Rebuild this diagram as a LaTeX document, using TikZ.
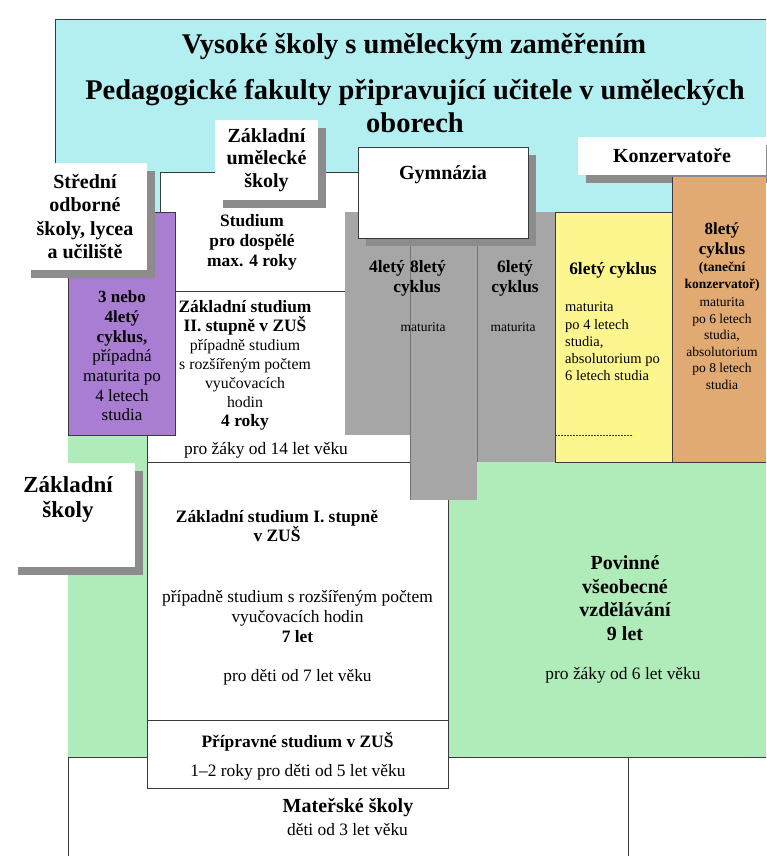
\documentclass[tikz,border=0pt]{standalone}
\usepackage{fontspec}
\setmainfont{Liberation Serif}
\usetikzlibrary{positioning, shadows}
\definecolor{sky}{HTML}{B3EEF1}
\definecolor{lawn}{HTML}{B0ECBA}
\definecolor{lilac}{HTML}{A97DD2}
\definecolor{lemon}{HTML}{FDF68E}
\definecolor{apricot}{HTML}{E0AA72}
\definecolor{stone}{HTML}{A6A6A6}
\definecolor{shade}{HTML}{8C8C8C}
\definecolor{edge}{HTML}{3A3A3A}
\tikzset{T/.style={font=\fontsize{28.5}{33}\selectfont\bfseries, align=center, inner sep=0pt}}
\tikzset{L/.style={fill=white, font=\fontsize{20}{22.5}\selectfont\bfseries, align=center, inner sep=0pt, drop shadow={shadow xshift=8pt, shadow yshift=-8pt, fill=shade, opacity=1}}}
\tikzset{LT/.style={font=\fontsize{20}{23.5}\selectfont\bfseries, align=center, inner sep=0pt}}
\tikzset{M/.style={font=\fontsize{17.4}{19.5}\selectfont, align=center, inner sep=0pt}}
\tikzset{MB/.style={font=\fontsize{17.4}{19.5}\selectfont\bfseries, align=center, inner sep=0pt}}
\tikzset{S/.style={font=\fontsize{14.5}{17.2}\selectfont, align=center, inner sep=0pt}}
\tikzset{E/.style={draw=edge, line width=1pt}}

\begin{document}
\begin{tikzpicture}[x=1pt, y=-1pt]
        \useasboundingbox (0,0) rectangle (766,856);
        %% Background areas
        \fill[sky] (55,20) rectangle (766,214);
        \draw[E] (55,163) -- (55,20) -- (766,20);
        \fill[lawn] (68,435) rectangle (766,757);
        \draw[E] (68,856) -- (68,757) -- (766,757);
        \draw[E] (628,757) -- (628,856);
        %% Title
        \node[T] (title) at (414,47) {Vysoké školy s uměleckým zaměřením};
        \node[T] (ped) at (415,106) {Pedagogické fakulty připravující učitele v uměleckých\\oborech};
        %% ZUS area
        \fill[white] (160,172) rectangle (358,435);
        \fill[white] (147,435) rectangle (410,462);
        \draw[E] (160,214) -- (160,172) -- (358,172);
        \draw[E] (175,291) -- (345,291);
        \draw[E] (147,435) -- (147,462) -- (410,462);
        \node[MB, font=\fontsize{17.4}{20}\selectfont\bfseries] (dosp) at (252,242) {Studium\\pro dospělé\\max. 4 roky};
        \node[M, font=\fontsize{15.8}{19}\selectfont] (zus2) at (245,365) {{\fontsize{17.4}{19}\selectfont\bfseries Základní studium}\\{\fontsize{17.4}{19}\selectfont\bfseries II. stupně v ZUŠ}\\případně studium\\s rozšířeným počtem\\vyučovacích\\hodin\\{\fontsize{17.4}{19}\selectfont\bfseries 4 roky}};
        \node[M] (zus14) at (266,450) {pro žáky od 14 let věku};
        %% ZUS I and preparatory
        \filldraw[fill=white, E] (147,462) rectangle (448,720);
        \filldraw[fill=white, E] (147,720) rectangle (448,788);
        \node[MB, font=\fontsize{17.4}{18.5}\selectfont\bfseries] (zus1) at (277,526) {Základní studium I. stupně\\v ZUŠ};
        \node[M, font=\fontsize{17.4}{20}\selectfont] (zus1r) at (297.5,617) {případně studium s rozšířeným počtem\\vyučovacích hodin\\\textbf{7 let}};
        \node[M] (zus1d) at (297.5,677) {pro děti od 7 let věku};
        \node[MB] (prip) at (297.5,742) {Přípravné studium v ZUŠ};
        \node[M] (pripd) at (298,772) {1--2 roky pro děti od 5 let věku};
        \node[LT] (mat) at (348,808) {Mateřské školy};
        \node[M] (matd) at (347.5,830) {děti od 3 let věku};
        %% Gymnazia columns
        \fill[stone] (345,212) rectangle (410,435);
        \fill[stone] (410,212) rectangle (477,500);
        \fill[stone] (477,212) rectangle (555,462);
        \draw[edge!70, line width=1pt] (410,212) -- (410,500);
        \draw[edge!70, line width=1pt] (477,212) -- (477,462);
        \node[MB] (g4) at (387,268) {4letý};
        \node[MB] (g8) at (428,268) {8letý};
        \node[MB] (g8c) at (417,288) {cyklus};
        \node[S, font=\fontsize{13.5}{16}\selectfont] (g48m) at (423,327) {maturita};
        \node[MB, font=\fontsize{17.4}{20}\selectfont\bfseries] (g6) at (515,278) {6letý\\cyklus};
        \node[S, font=\fontsize{13.5}{16}\selectfont] (g6m) at (513,327) {maturita};
        \path[L, draw=edge, line width=1pt] (358,147) rectangle (528,238);
        \node[LT] (gym) at (443,175) {Gymnázia};
        %% Purple cycle
        \filldraw[fill=lilac, draw=edge, line width=1pt] (68,212) rectangle (175,435);
        \node[M, font=\fontsize{17}{19.7}\selectfont] (sos3) at (122,356) {\textbf{3 nebo}\\\textbf{4letý}\\\textbf{cyklus,}\\případná\\maturita po\\4 letech\\studia};
        \node[L, font=\fontsize{20}{23.5}\selectfont\bfseries, minimum width=124, minimum height=107] (sos) at (85,216.5) {Střední\\odborné\\školy, lycea\\a učiliště};
        \node[L, minimum width=103, minimum height=80] (zus) at (266.5,160) {Základní\\umělecké\\školy};
        %% Conservatories
        \node[L, minimum width=188, minimum height=38] (kon) at (672,156) {Konzervatoře};
        \filldraw[fill=lemon, E] (555,212) rectangle (672,462);
        \draw[edge, line width=0.8pt, dash pattern=on 2pt off 1pt] (555,435) -- (633,435);
        \node[MB] (y6) at (613,270) {6letý cyklus};
        \node[S, align=left, anchor=west] (ytxt) at (565,341.5) {maturita\\po 4 letech\\studia,\\absolutorium po\\6 letech studia};
        \fill[apricot] (672,177) rectangle (766,462);
        \draw[E] (672,177) -- (672,462) -- (766,462);
        \node[MB, font=\fontsize{17}{20}\selectfont\bfseries] (o8) at (722,240) {8letý\\cyklus};
        \node[S, font=\fontsize{13.5}{17}\selectfont\bfseries] (otan) at (722,276.5) {(taneční\\konzervatoř)};
        \node[S, font=\fontsize{13.5}{16.6}\selectfont] (otxt) at (722,343.5) {maturita\\po 6 letech\\studia,\\absolutorium\\po 8 letech\\studia};
        %% Basic schools
        \path[L] (10,463) rectangle (135,567);
        \node[LT, font=\fontsize{23}{25}\selectfont\bfseries] (zs) at (68,499.5) {Základní\\školy};
        \node[LT] (pov) at (625,598) {Povinné\\všeobecné\\vzdělávání\\9 let};
        \node[M] (povd) at (623,675) {pro žáky od 6 let věku};
\end{tikzpicture}
\end{document}
